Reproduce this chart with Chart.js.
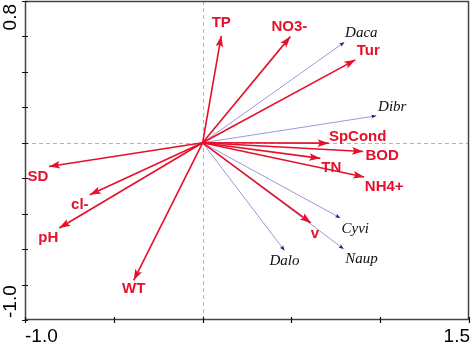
<!DOCTYPE html>
<html>
<head>
<meta charset="utf-8">
<script src="https://cdn.jsdelivr.net/npm/chart.js@4.4.0/dist/chart.umd.min.js"></script>
<style>
  html, body { margin: 0; padding: 0; background: #fff; }
  #wrap { width: 472px; height: 345px; }
</style>
</head>
<body>
<div id="wrap"><canvas id="rda" width="472" height="345"></canvas></div>
<script>
// environmental variables (red arrows)
var envNames = ['TP', 'NO3-', 'Tur', 'SpCond', 'BOD', 'TN', 'NH4+', 'v', 'SD', 'cl-', 'pH', 'WT']
var envX = [0.105, 0.494, 0.86, 0.71, 0.904, 0.663, 0.91, 0.61, -0.865, -0.635, -0.807, -0.388]
var envY = [0.603, 0.599, 0.468, -0.002, -0.049, -0.088, -0.193, -0.452, -0.134, -0.293, -0.481, -0.776]

// species (blue arrows)
var spNames = ['Daca', 'Dibr', 'Cyvi', 'Naup', 'Dalo']
var spX = [0.798, 0.978, 0.775, 0.794, 0.461]
var spY = [0.567, 0.152, -0.424, -0.599, -0.608]

// axis labels
var xTickLabels = ['-1.0', '1.5']
var yTickLabels = ['0.8', '-1.0']

// label offsets from the arrow tip, in pixels
var envOffsets = [[0,-13],[-1,-10],[13,-9],[29,-6],[19,4],[11,9],[20,10],[4,11],[-11,10],[-10,10],[-11,10],[0,9]]
var spOffsets = [[17,-9],[16,-9],[15,11],[18,10],[0,11]]

var red = '#e5102a'
var blueLine = '#9a9ad8'
var blueHead = '#1a1a78'
var axisCol = '#444'

var datasets = []
spNames.forEach(function(n, i){
    datasets.push({
        label: n, kind: 'sp', idx: i, order: 2,
        data: [{x: 0, y: 0}, {x: spX[i], y: spY[i]}],
        borderColor: blueLine, borderWidth: 1, pointRadius: 0
    })
})
envNames.forEach(function(n, i){
    datasets.push({
        label: n, kind: 'env', idx: i, order: 1,
        data: [{x: 0, y: 0}, {x: envX[i], y: envY[i]}],
        borderColor: red, borderWidth: 1.6, pointRadius: 0
    })
})

function arrowHead(ctx, x0, y0, x1, y1, len, half, color) {
    var a = Math.atan2(y1 - y0, x1 - x0)
    ctx.save()
    ctx.translate(x1, y1)
    ctx.rotate(a)
    ctx.beginPath()
    ctx.moveTo(0, 0)
    ctx.lineTo(-len, -half)
    ctx.lineTo(-len * 0.8, 0)
    ctx.lineTo(-len, half)
    ctx.closePath()
    ctx.fillStyle = color
    ctx.fill()
    ctx.restore()
}

var biplot = {
    id: 'biplot',
    beforeDatasetsDraw: function(chart) {
        var ctx = chart.ctx, a = chart.chartArea
        var px = chart.scales.x.getPixelForValue(0)
        var py = chart.scales.y.getPixelForValue(0)
        ctx.save()
        ctx.strokeStyle = '#b4b4b4'
        ctx.lineWidth = 1
        ctx.setLineDash([4, 3])
        ctx.beginPath()
        ctx.moveTo(Math.round(px) + 0.5, a.top)
        ctx.lineTo(Math.round(px) + 0.5, a.bottom)
        ctx.moveTo(a.left, Math.round(py) + 0.5)
        ctx.lineTo(a.right, Math.round(py) + 0.5)
        ctx.stroke()
        ctx.restore()
    },
    afterDatasetsDraw: function(chart) {
        var ctx = chart.ctx
        chart.data.datasets.forEach(function(ds, i){
            var pts = chart.getDatasetMeta(i).data
            var p0 = pts[0], p1 = pts[1]
            ctx.save()
            ctx.textAlign = 'center'
            ctx.textBaseline = 'middle'
            if (ds.kind === 'env') {
                arrowHead(ctx, p0.x, p0.y, p1.x, p1.y, 11, 3.8, red)
                var o = envOffsets[ds.idx]
                ctx.fillStyle = red
                ctx.font = 'bold 15px "Liberation Sans", Arial, sans-serif'
                ctx.fillText(ds.label, p1.x + o[0], p1.y + o[1])
            } else {
                arrowHead(ctx, p0.x, p0.y, p1.x, p1.y, 5, 2, blueHead)
                var o2 = spOffsets[ds.idx]
                ctx.fillStyle = '#111'
                ctx.font = 'italic 15px "Liberation Serif", "Times New Roman", serif'
                ctx.fillText(ds.label, p1.x + o2[0], p1.y + o2[1])
            }
            ctx.restore()
        })
    },
    afterDraw: function(chart) {
        var ctx = chart.ctx, a = chart.chartArea
        var sx = chart.scales.x, sy = chart.scales.y
        ctx.save()
        // frame
        ctx.strokeStyle = axisCol
        ctx.lineWidth = 1.5
        ctx.strokeRect(a.left + 0.5, a.top + 0.5, a.right - a.left - 1, a.bottom - a.top - 1)
        // tick marks straddling the axes
        ctx.lineWidth = 1.2
        ctx.strokeStyle = '#111'
        ctx.beginPath()
        sx.ticks.forEach(function(t){
            var x = Math.round(sx.getPixelForValue(t.value)) + 0.5
            ctx.moveTo(x, a.bottom - 3)
            ctx.lineTo(x, a.bottom + 3)
        })
        sy.ticks.forEach(function(t){
            var y = Math.round(sy.getPixelForValue(t.value)) + 0.5
            ctx.moveTo(a.left - 3, y)
            ctx.lineTo(a.left + 3, y)
        })
        ctx.stroke()
        // axis end labels
        ctx.fillStyle = '#000'
        ctx.font = '19px "Liberation Sans", Arial, sans-serif'
        ctx.textBaseline = 'alphabetic'
        ctx.textAlign = 'left'
        ctx.fillText(xTickLabels[0], sx.getPixelForValue(sx.min), 342)
        ctx.textAlign = 'right'
        ctx.fillText(xTickLabels[1], sx.getPixelForValue(sx.max) + 1, 342)
        ctx.translate(16, 0)
        ctx.rotate(-Math.PI / 2)
        ctx.textAlign = 'right'
        ctx.fillText(yTickLabels[0], -(sy.getPixelForValue(sy.max) + 3), 0)
        ctx.textAlign = 'left'
        ctx.fillText(yTickLabels[1], -(sy.getPixelForValue(sy.min) - 2), 0)
        ctx.restore()
    }
}

var chartRda = new Chart(document.getElementById('rda'), {
    type: 'line',
    data: { datasets: datasets },
    plugins: [biplot],
    options: {
        responsive: false,
        animation: false,
        layout: { padding: { top: 1, right: 3, left: 0, bottom: 0 } },
        plugins: { legend: { display: false }, tooltip: { enabled: false } },
        scales: {
            x: {
                type: 'linear', min: -1.0, max: 1.5,
                ticks: { stepSize: 0.5, display: false },
                grid: { display: false },
                border: { display: false },
                afterFit: function(s) { s.height = 25 }
            },
            y: {
                type: 'linear', min: -1.0, max: 0.8,
                ticks: { stepSize: 0.2, display: false },
                grid: { display: false },
                border: { display: false },
                afterFit: function(s) { s.width = 25 }
            }
        }
    }
})
</script>
</body>
</html>
